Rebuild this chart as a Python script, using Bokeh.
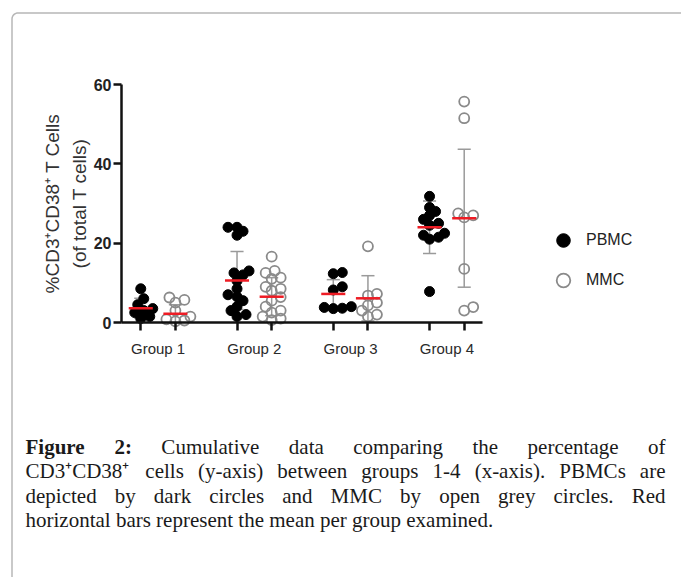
import math
from bokeh.plotting import figure
from bokeh.models import (ColumnDataSource, FixedTicker, Legend, LegendItem,
                          Label, PolyAnnotation)
from bokeh.embed import file_html
from bokeh.resources import INLINE

# ---------------- data ----------------
groups = ["Group 1", "Group 2", "Group 3", "Group 4"]
series = ["PBMC", "MMC"]

pbmc_g1 = [8.5, 6.0, 4.5, 3.5, 3.0, 2.5, 1.5, 1.0]
pbmc_g2 = [24.0, 24.0, 23.0, 22.0, 13.0, 12.5, 12.0, 10.5, 8.5, 7.0, 6.5, 5.5, 4.0, 3.0, 2.0, 1.5]
pbmc_g3 = [12.6, 12.3, 9.0, 8.2, 4.0, 3.8, 3.6, 3.5]
pbmc_g4 = [31.8, 29.0, 28.0, 27.0, 26.0, 25.0, 24.5, 22.5, 22.0, 21.5, 21.0, 7.8]

mmc_g1 = [6.3, 5.7, 5.0, 3.0, 1.5, 0.8, 0.5, 0.3]
mmc_g2 = [16.6, 13.0, 12.5, 11.3, 11.0, 9.0, 8.5, 8.0, 6.4, 5.5, 4.0, 3.0, 2.5, 1.5, 1.0, 0.6]
mmc_g3 = [19.2, 7.2, 6.8, 5.0, 4.3, 3.0, 2.0, 1.5]
mmc_g4 = [55.7, 51.5, 27.5, 27.0, 26.5, 13.5, 3.9, 3.0]

pbmc_mean = [3.6, 10.6, 7.2, 24.0]
pbmc_sd = [2.5, 7.3, 3.6, 6.6]
mmc_mean = [2.2, 6.5, 6.1, 26.3]
mmc_sd = [2.3, 4.8, 5.7, 17.4]

y_ticks = [0, 20, 40, 60]

y_title = "%CD3\u207aCD38\u207a T Cells\n(of total T cells)"
caption_lines = [
    "Figure 2: Cumulative data comparing the percentage of",
    "CD3\u207aCD38\u207a cells (y-axis) between groups 1-4 (x-axis). PBMCs are",
    "depicted by dark circles and MMC by open grey circles. Red",
    "horizontal bars represent the mean per group examined.",
]
caption_bold_words = 2

# ---------------- layout (page pixels) ----------------
W, H = 681, 577
AL, AR, AT, AB = 121, 482, 84, 322          # plot area: axes edges
X0, X1 = 0.62, 4.37                          # data span of the x axis
XPX = (AR - AL) / (X1 - X0)
YPX = (AB - AT) / (y_ticks[-1] - y_ticks[0])
XR = (X0 - AL / XPX, X0 + (W - AL) / XPX)
YR = (-(H - AB) / YPX, AB / YPX)
OFF = 0.18


def dx(page_x):
    return XR[0] + page_x / XPX


def dy(page_y):
    return YR[1] - page_y / YPX


def swarm(values, center, step=3.0, min_dist=7.0):
    placed = []
    out = [0.0] * len(values)
    cands = [0.0]
    for m in range(1, 12):
        cands += [m * step, -m * step]
    for i in sorted(range(len(values)), key=lambda k: values[k]):
        ypx = values[i] * YPX
        chosen = cands[-1]
        for c in cands:
            if all((c - px) ** 2 + (ypx - py) ** 2 >= min_dist ** 2 for px, py in placed):
                chosen = c
                break
        placed.append((chosen, ypx))
        out[i] = center + chosen / XPX
    return out


p = figure(width=W, height=H, x_range=XR, y_range=YR, title=None,
           output_backend="svg", toolbar_location=None,
           min_border_left=0, min_border_right=0,
           min_border_top=0, min_border_bottom=0)
p.background_fill_color = "white"
p.border_fill_color = "white"
p.outline_line_color = None
p.xgrid.visible = False
p.ygrid.visible = False

# axes (drawn inside the canvas at fixed data locations)
centers = [1, 2, 3, 4]
sub_ticks = []
for c in centers:
    sub_ticks += [c - OFF, c + OFF]
p.xaxis.fixed_location = 0
p.xaxis.bounds = (X0, X1)
p.xaxis.ticker = FixedTicker(ticks=centers, minor_ticks=sub_ticks)
p.xaxis.major_label_overrides = {c: g for c, g in zip(centers, groups)}
p.xaxis.major_tick_out = 0
p.xaxis.major_tick_in = 0
p.xaxis.minor_tick_out = 8
p.xaxis.minor_tick_in = 0
p.xaxis.minor_tick_line_width = 2.5
p.xaxis.minor_tick_line_color = "#111111"
p.xaxis.major_label_standoff = 9
p.xaxis.major_label_text_font = "Liberation Sans"
p.xaxis.major_label_text_font_size = "15px"
p.xaxis.major_label_text_color = "#2a2a2a"

p.yaxis.fixed_location = X0
p.yaxis.bounds = (y_ticks[0], y_ticks[-1])
p.yaxis.ticker = FixedTicker(ticks=y_ticks, minor_ticks=[])
p.yaxis.major_tick_out = 8
p.yaxis.major_tick_in = 0
p.yaxis.major_tick_line_width = 2.5
p.yaxis.major_tick_line_color = "#111111"
p.yaxis.minor_tick_line_color = None
p.yaxis.major_label_standoff = 2
p.yaxis.major_label_text_font = "Liberation Sans"
p.yaxis.major_label_text_font_size = "16px"
p.yaxis.major_label_text_font_style = "bold"
p.yaxis.major_label_text_color = "#222222"
p.yaxis.axis_label = y_title
p.yaxis.axis_label_text_font = "Liberation Sans"
p.yaxis.axis_label_text_font_size = "19px"
p.yaxis.axis_label_text_font_style = "normal"
p.yaxis.axis_label_text_color = "#333333"
p.yaxis.axis_label_text_line_height = 1.25
p.yaxis.axis_label_standoff = 1

for ax in (p.xaxis, p.yaxis):
    ax.axis_line_width = 2.5
    ax.axis_line_color = "#111111"

# error bars
pb_x = [c - OFF for c in centers]
mm_x = [c + OFF for c in centers]
cap = 0.068
for xs, means, sds in ((pb_x, pbmc_mean, pbmc_sd), (mm_x, mmc_mean, mmc_sd)):
    lo = [m - s for m, s in zip(means, sds)]
    hi = [m + s for m, s in zip(means, sds)]
    p.segment(x0=xs, y0=lo, x1=xs, y1=hi, line_color="#9a9a9a", line_width=1.5)
    p.segment(x0=[x - cap for x in xs], y0=hi, x1=[x + cap for x in xs], y1=hi,
              line_color="#9a9a9a", line_width=1.5)
    p.segment(x0=[x - cap for x in xs], y0=lo, x1=[x + cap for x in xs], y1=lo,
              line_color="#9a9a9a", line_width=1.5)

# points
pb_vals = [pbmc_g1, pbmc_g2, pbmc_g3, pbmc_g4]
mm_vals = [mmc_g1, mmc_g2, mmc_g3, mmc_g4]
px_, py_, mx_, my_ = [], [], [], []
for c, vals in zip(pb_x, pb_vals):
    px_ += swarm(vals, c)
    py_ += vals
for c, vals in zip(mm_x, mm_vals):
    mx_ += swarm(vals, c)
    my_ += vals

r_mmc = p.scatter(x="x", y="y", source=ColumnDataSource(dict(x=mx_, y=my_)),
                  marker="circle", size=10, fill_color=None,
                  line_color="#8a8a8a", line_width=1.8)
r_pbmc = p.scatter(x="x", y="y", source=ColumnDataSource(dict(x=px_, y=py_)),
                   marker="circle", size=10, fill_color="black", line_color="black")

# mean bars
mw = 0.125
for xs, means in ((pb_x, pbmc_mean), (mm_x, mmc_mean)):
    p.segment(x0=[x - mw for x in xs], y0=means, x1=[x + mw for x in xs], y1=means,
              line_color="#ee1c24", line_width=2.5)

# legend (screen offsets from the canvas bottom-left)
LG_LEFT, LG_TOP, GL = 546, 223, 34
legend = Legend(items=[LegendItem(label=series[0], renderers=[r_pbmc]),
                       LegendItem(label=series[1], renderers=[r_mmc])],
                location=(LG_LEFT, H - (LG_TOP + 2 * GL + 6)),
                glyph_width=GL, glyph_height=GL, spacing=6,
                padding=0, margin=0, label_standoff=6,
                border_line_color=None, background_fill_alpha=0,
                label_text_font="Liberation Sans", label_text_font_size="16px",
                label_text_color="#222222")
p.add_layout(legend)

# frame border around the figure (rounded top-left corner)
r = 6.0
bx, by = 11.5, 12.5
xs = [dx(bx)]
ys = [dy(H + 50)]
for k in range(0, 91, 10):
    t = math.radians(k)
    xs.append(dx(bx + r - r * math.cos(t)))
    ys.append(dy(by + r - r * math.sin(t)))
xs += [dx(W + 50), dx(W + 50)]
ys += [dy(by), dy(H + 50)]
p.add_layout(PolyAnnotation(xs=xs, ys=ys, fill_alpha=0, line_color="#111111",
                            line_width=1.5))

# caption (justified by word placement)
REG = dict(zip("abcdefghijklmnopqrstuvwxyz",
               [444, 500, 444, 500, 444, 333, 500, 500, 278, 278, 500, 278, 778,
                500, 500, 500, 500, 333, 389, 278, 500, 500, 722, 500, 500, 444]))
REG.update(dict(zip("ABCDEFGHIJKLMNOPQRSTUVWXYZ",
                    [722, 667, 667, 722, 611, 556, 722, 722, 333, 389, 722, 611, 889,
                     722, 722, 556, 722, 667, 556, 611, 722, 722, 944, 722, 722, 611])))
REG.update({c: 500 for c in "0123456789"})
REG.update({" ": 250, "(": 333, ")": 333, "-": 333, ".": 250, ",": 250, ":": 278,
            "\u207a": 380})
BOLD = dict(REG)
BOLD.update({"F": 611, "i": 278, "g": 500, "u": 556, "r": 444, "e": 444, ":": 333})

FS = 21
LEFT, RIGHT = 25.0, 665.0
BASE0, LEAD = 446.0, 24.5


def wwidth(word, table):
    return sum(table.get(ch, 500) for ch in word) / 1000.0 * FS


for li, line in enumerate(caption_lines):
    base = BASE0 + li * LEAD
    words = line.split(" ")
    bold = [li == 0 and k < caption_bold_words for k in range(len(words))]
    common = dict(y=dy(base), text_baseline="alphabetic", text_font="Liberation Serif",
                  text_font_size=f"{FS}px", text_color="#1a1a1a")
    if li == len(caption_lines) - 1:
        p.add_layout(Label(x=dx(LEFT), text=line, text_align="left", **common))
        continue
    widths = [wwidth(w, BOLD if b else REG) for w, b in zip(words, bold)]
    gap = (RIGHT - LEFT - sum(widths)) / (len(words) - 1)
    xpos = LEFT
    for k, (w, b, wd) in enumerate(zip(words, bold, widths)):
        style = "bold" if b else "normal"
        if k == len(words) - 1:
            p.add_layout(Label(x=dx(RIGHT), text=w, text_align="right",
                               text_font_style=style, **common))
        else:
            p.add_layout(Label(x=dx(xpos), text=w, text_align="left",
                               text_font_style=style, **common))
        xpos += wd + gap

open("out.html", "w").write(file_html(p, INLINE))
